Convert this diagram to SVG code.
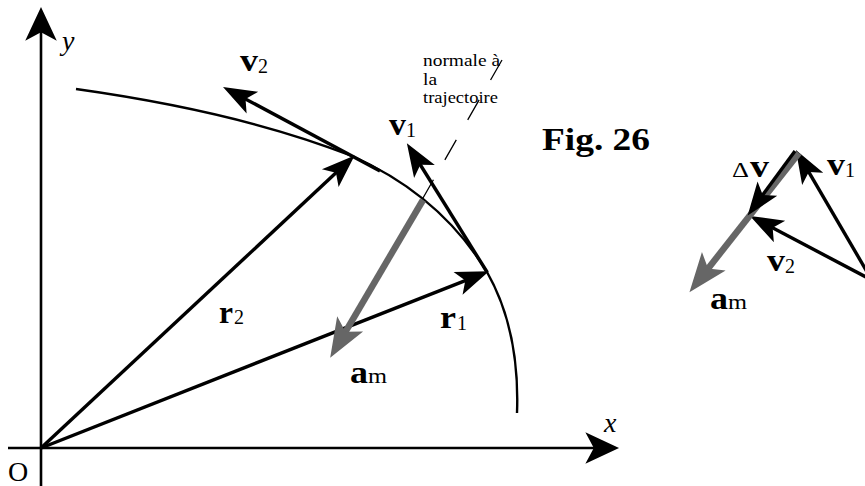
<svg xmlns="http://www.w3.org/2000/svg" width="865" height="486" viewBox="0 0 865 486">
<style>
.ln{stroke:#000;fill:none;stroke-linecap:butt}
.ax{stroke-width:2.6}
.vec{stroke-width:3.4}
.gr{stroke:#666;stroke-width:6.5;fill:none}
.cv{stroke:#000;stroke-width:2.4;fill:none}
.b{font-family:"Liberation Serif","Times New Roman",serif;font-weight:bold;font-size:31px;fill:#000}
.s{font-family:"Liberation Serif","Times New Roman",serif;font-size:20px;fill:#000}
.i{font-family:"Liberation Serif","Times New Roman",serif;font-style:italic;font-size:28px;fill:#000}
.n{font-family:"Liberation Serif","Times New Roman",serif;font-size:16px;fill:#000}
</style>
<defs>
<marker id="axh" markerUnits="userSpaceOnUse" markerWidth="40" markerHeight="40" refX="12" refY="0" viewBox="-2 -17 38 34" orient="auto" overflow="visible">
<path d="M0,-15 L32,0 L0,15 L8,0 Z" fill="#000"/>
</marker>
<marker id="vh" markerUnits="userSpaceOnUse" markerWidth="40" markerHeight="40" refX="10" refY="0" viewBox="-2 -13 36 26" orient="auto" overflow="visible">
<path d="M0,-11 L30,0 L0,11 L7,0 Z" fill="#000"/>
</marker>
<marker id="gh" markerUnits="userSpaceOnUse" markerWidth="44" markerHeight="44" refX="12" refY="0" viewBox="-2 -15 38 30" orient="auto" overflow="visible">
<path d="M0,-13 L34,0 L0,13 L8,0 Z" fill="#666"/>
</marker>
</defs>

<g id="connectors">
<line id="y-axis" class="ln ax" x1="41" y1="486" x2="41" y2="28" marker-end="url(#axh)"/>
<line id="x-axis" class="ln ax" x1="8" y1="448" x2="598" y2="448" marker-end="url(#axh)"/>
<path id="trajectory" class="cv" d="M76,89 Q240,112 352,156 Q440,195 487,272 Q520,330 517,413"/>
<line id="normal" stroke="#000" stroke-width="1.3" stroke-dasharray="23,23" x1="502" y1="60" x2="423" y2="198"/>
<line id="r2" class="ln vec" x1="41" y1="448" x2="338.4" y2="170.6" marker-end="url(#vh)"/>
<line id="r1" class="ln vec" x1="41" y1="448" x2="468.4" y2="279.3" marker-end="url(#vh)"/>
<line id="v2" class="ln vec" x1="380" y1="171" x2="242.6" y2="97.4" marker-end="url(#vh)"/>
<line id="v1" class="ln vec" x1="487" y1="272" x2="418.6" y2="162" marker-end="url(#vh)"/>
<line id="am" class="gr" x1="423" y1="200" x2="343.1" y2="335.8" marker-end="url(#gh)"/>
<line id="v1-right" class="ln vec" x1="880" y1="294" x2="807.1" y2="169.2" marker-end="url(#vh)"/>
<line id="v2-right" class="ln vec" x1="885" y1="287" x2="769.7" y2="226.3" marker-end="url(#vh)"/>
<line id="am-right" class="gr" x1="799" y1="153" x2="705.2" y2="272.2" marker-end="url(#gh)"/>
<line id="dv-right" class="ln vec" x1="795" y1="151" x2="760.8" y2="197.6" marker-end="url(#vh)"/>
</g>

<g id="label-y"><text class="i" x="62" y="50">y</text></g>
<g id="label-x"><text class="i" x="604" y="432" font-size="26">x</text></g>
<g id="label-O"><text class="i" x="8" y="481" font-size="26" style="font-style:normal">O</text></g>
<g id="label-normal">
<text class="n" x="423" y="66" textLength="77" lengthAdjust="spacingAndGlyphs">normale à</text>
<text class="n" x="423" y="84.5" textLength="14" lengthAdjust="spacingAndGlyphs">la</text>
<text class="n" x="423" y="103" textLength="75" lengthAdjust="spacingAndGlyphs">trajectoire</text>
</g>
<g id="label-fig"><text class="b" x="542" y="150" font-size="29" textLength="108" lengthAdjust="spacingAndGlyphs">Fig. 26</text></g>
<g id="label-v2"><text class="b" x="240" y="71" textLength="18" lengthAdjust="spacingAndGlyphs">v</text><text class="s" x="258" y="73">2</text></g>
<g id="label-v1"><text class="b" x="389" y="135" textLength="17" lengthAdjust="spacingAndGlyphs">v</text><text class="s" x="406" y="137">1</text></g>
<g id="label-r2"><text class="b" x="219" y="323" textLength="14" lengthAdjust="spacingAndGlyphs">r</text><text class="s" x="234" y="324">2</text></g>
<g id="label-r1"><text class="b" x="440" y="328" textLength="16" lengthAdjust="spacingAndGlyphs">r</text><text class="s" x="457" y="330">1</text></g>
<g id="label-am"><text class="b" x="350" y="383" textLength="18" lengthAdjust="spacingAndGlyphs">a</text><text class="s" x="368" y="383" textLength="19" lengthAdjust="spacingAndGlyphs">m</text></g>
<g id="label-dv"><text class="s" x="732" y="177" font-size="23" font-family="DejaVu Serif, serif" textLength="17" lengthAdjust="spacingAndGlyphs">Δ</text><text class="b" x="750" y="177" textLength="19" lengthAdjust="spacingAndGlyphs">v</text></g>
<g id="label-v1-right"><text class="b" x="827" y="175" textLength="18" lengthAdjust="spacingAndGlyphs">v</text><text class="s" x="845" y="177">1</text></g>
<g id="label-v2-right"><text class="b" x="767" y="271" textLength="18" lengthAdjust="spacingAndGlyphs">v</text><text class="s" x="785" y="273">2</text></g>
<g id="label-am-right"><text class="b" x="710" y="309" textLength="18" lengthAdjust="spacingAndGlyphs">a</text><text class="s" x="728" y="309" textLength="19" lengthAdjust="spacingAndGlyphs">m</text></g>
</svg>
